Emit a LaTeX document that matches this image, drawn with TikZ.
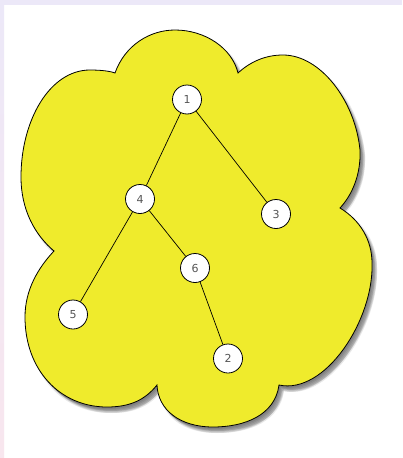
\documentclass[tikz,border=0pt]{standalone}
\usepackage{fontspec}
\setmainfont{DejaVu Sans}
\definecolor{cloudyellow}{RGB}{239,235,44}
\definecolor{bandlav}{RGB}{236,232,248}
\definecolor{bandpink}{RGB}{248,230,238}
\definecolor{labelgray}{RGB}{85,85,85}
\newcommand\mycloudpath{(115,73) .. controls (125,45) and (150,30) .. (175,30)
 .. controls (205,30) and (232,48) .. (238,73)
 .. controls (250,62) and (265,55) .. (283,55)
 .. controls (320,55) and (355,100) .. (360,150)
 .. controls (361,175) and (352,195) .. (340,208)
 .. controls (360,220) and (372,240) .. (372,263)
 .. controls (374,320) and (325,395) .. (279,385)
 .. controls (275,415) and (245,427) .. (213,427)
 .. controls (180,427) and (158,410) .. (157,385)
 .. controls (145,400) and (130,407) .. (107,407)
 .. controls (60,407) and (25,370) .. (25,317)
 .. controls (25,290) and (38,268) .. (54,251)
 .. controls (35,235) and (21,210) .. (21,177)
 .. controls (21,120) and (50,70) .. (90,70)
 .. controls (100,70) and (110,71) .. (115,73) -- cycle}
\tikzset{
  treenode/.style={circle, draw=black, fill=white, line width=0.8pt,
    minimum size=29pt, inner sep=0pt, text=labelgray,
    font=\fontsize{11}{11}\selectfont},
  treeedge/.style={draw=black, line width=0.7pt},
  shadowlayer/.style={fill=black, fill opacity=0.09}
}
\begin{document}
\begin{tikzpicture}[x=1pt,y=-1pt]
\useasboundingbox (0,0) rectangle (402,458);
\fill[white] (0,0) rectangle (402,458);
\fill[bandlav] (0,0) rectangle (402,5);
\shade[top color=bandlav, bottom color=bandpink] (0,0) rectangle (4,458);
% blurred shadow
\foreach \dx/\dy in {1/2,2/3,3/4,4/5,5/6,3/6,5/4}{
  \path[shadowlayer, shift={(\dx pt,-\dy pt)}] \mycloudpath;
}
\path[fill=cloudyellow, draw=black, line width=0.8pt] \mycloudpath;
% tree
\node[treenode] (n1) at (187,99.5) {1};
\node[treenode] (n4) at (140,199) {4};
\node[treenode] (n3) at (276,214) {3};
\node[treenode] (n6) at (195,268) {6};
\node[treenode] (n5) at (73,314.5) {5};
\node[treenode] (n2) at (228,358.5) {2};
\draw[treeedge] (n1) -- (n4);
\draw[treeedge] (n1) -- (n3);
\draw[treeedge] (n4) -- (n5);
\draw[treeedge] (n4) -- (n6);
\draw[treeedge] (n6) -- (n2);
\end{tikzpicture}
\end{document}
